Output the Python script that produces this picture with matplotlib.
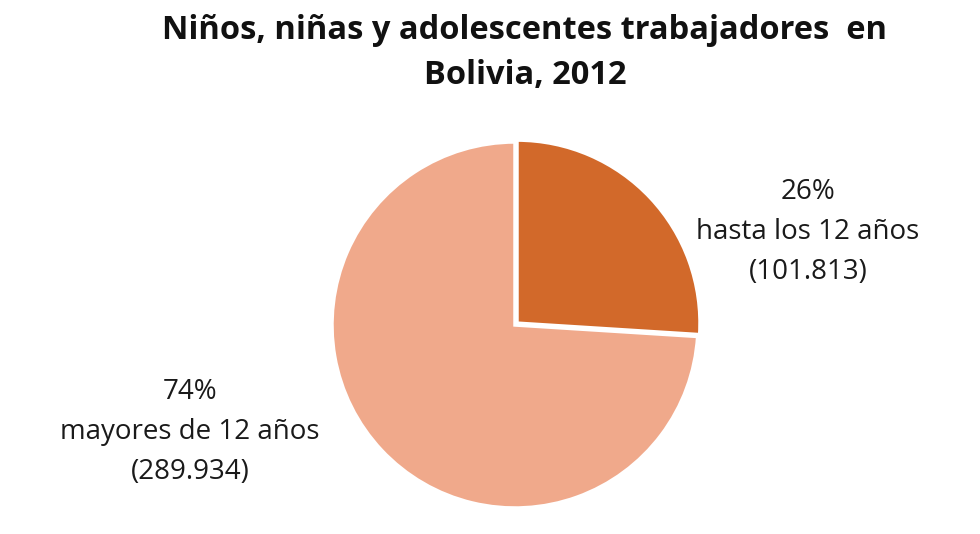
import matplotlib.pyplot as plt

# data
labels = ['hasta los 12 años', 'mayores de 12 años']
percents = [26, 74]
counts = ['101.813', '289.934']
colors = ['#D2692A', '#F0A98B']

def main():
    fig = plt.figure(figsize=(9.8, 5.34), dpi=100)
    plt.rcParams['font.family'] = ['Open Sans', 'DejaVu Sans']

    # pie axes, centre at about (515, 325) px, radius 183 px
    r = 183
    half = 200
    ax = fig.add_axes([(515 - half) / 980, (534 - 325 - half) / 534,
                       2 * half / 980, 2 * half / 534])
    ax.pie(percents, colors=colors, startangle=90, counterclock=False,
           explode=[0.015, 0], wedgeprops=dict(edgecolor='white', linewidth=2.5))
    lim = half / r
    ax.set_xlim(-lim, lim)
    ax.set_ylim(-lim, lim)
    ax.set_aspect('equal')
    ax.axis('off')

    # labels next to the slices
    pos = [((808 - 515) / r, (325 - 232) / r), ((190 - 515) / r, (325 - 432) / r)]
    for (x, y), lab, p, c in zip(pos, labels, percents, counts):
        ax.text(x, y, f'{p}%\n{lab}\n({c})', ha='center', va='center',
                fontsize=20, color='#1a1a1a', linespacing=1.55)

    fig.text(525 / 980, 1 - 53 / 534, 'Niños, niñas y adolescentes trabajadores  en\nBolivia, 2012',
             ha='center', va='center', fontsize=23.5, fontweight='bold',
             color='#111111', linespacing=1.45)

    fig.savefig('out.png', dpi=100)

if __name__ == "__main__":
    main()
